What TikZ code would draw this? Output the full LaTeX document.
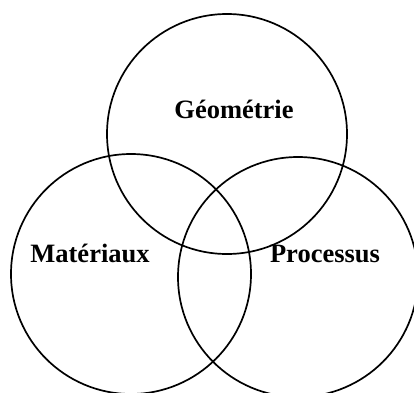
\documentclass[tikz,border=0pt]{standalone}
\usepackage{fontspec}
\setmainfont{Liberation Serif}
\usetikzlibrary{positioning}

\begin{document}
\begin{tikzpicture}[
        x=1pt, y=1pt,
        ensemble/.style={circle, draw=black, line width=1.7pt, minimum size=240pt, inner sep=0pt},
        label/.style={font=\fontsize{26.5}{30}\selectfont\bfseries, anchor=base, inner sep=0pt}
    ]
        \useasboundingbox (0,0) rectangle (414,392);

        % Circles
        \node[ensemble] (geo) at (227,258) {};
        \node[ensemble] (mat) at (131,118) {};
        \node[ensemble] (pro) at (298,115) {};

        % Labels
        \node[label] (geotext) at (234,274) {Géométrie};
        \node[label] (mattext) at (90,130) {Matériaux};
        \node[label] (protext) at (325,130) {Processus};
    \end{tikzpicture}
\end{document}
